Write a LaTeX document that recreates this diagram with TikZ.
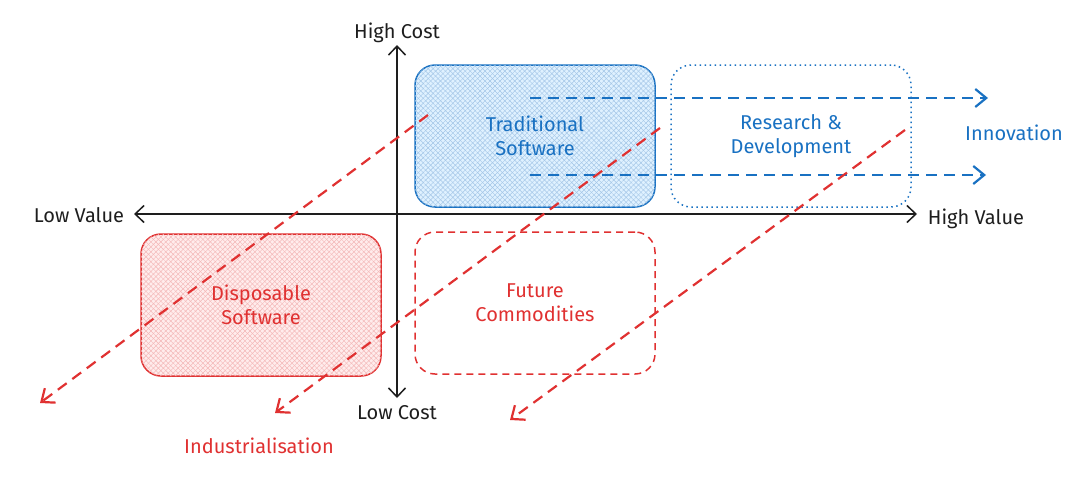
\documentclass[tikz,border=0pt]{standalone}
\usepackage{fontspec}
\setmainfont{Fira Sans}
\usetikzlibrary{arrows.meta,patterns.meta}
\definecolor{exblue}{HTML}{1971C2}
\definecolor{exred}{HTML}{E03131}
\definecolor{exink}{HTML}{1E1E1E}
\definecolor{lblue}{HTML}{A5D8FF}
\definecolor{lred}{HTML}{FFC9C9}
\tikzset{
  lbl/.style={font=\fontsize{20}{24}\selectfont, align=center, inner sep=0pt},
  quad/.style={draw, rounded corners=20pt, line width=1.5pt, minimum width=240pt, minimum height=142pt, align=center, font=\fontsize{20}{24}\selectfont},
  axis/.style={exink, line width=1.5pt, {Straight Barb[length=9pt,width=17pt,line width=1.5pt]}-{Straight Barb[length=9pt,width=17pt,line width=1.5pt]}},
  flow/.style={line width=2.2pt, dash pattern=on 11pt off 7pt, -{Straight Barb[length=11pt,width=18pt,line width=2.2pt]}},
}
\begin{document}
\begin{tikzpicture}[x=1pt,y=-1pt]
\useasboundingbox (0,0) rectangle (1080,477);
% quadrant boxes
\node[quad, draw=exblue, text=exblue, fill=lblue!35,
  postaction={pattern={Lines[angle=45,distance=3.5pt,line width=0.45pt]}, pattern color=exblue!40},
  postaction={pattern={Lines[angle=-45,distance=3.5pt,line width=0.45pt]}, pattern color=exblue!40}]
  (trad) at (535,136) {Traditional\\Software};
\node[quad, draw=exblue, text=exblue, dash pattern=on 1.5pt off 3.5pt] (rnd) at (791,136) {Research \&\\Development};
\node[quad, draw=exred, text=exred, fill=lred!35,
  postaction={pattern={Lines[angle=45,distance=3.5pt,line width=0.45pt]}, pattern color=exred!35},
  postaction={pattern={Lines[angle=-45,distance=3.5pt,line width=0.45pt]}, pattern color=exred!35}]
  (disp) at (261,305) {Disposable\\Software};
\node[quad, draw=exred, text=exred, dash pattern=on 7pt off 5pt] (fut) at (535,303) {Future\\Commodities};
% axes
\coordinate (ytop) at (397,45);
\coordinate (ybot) at (397,398);
\coordinate (xl) at (134,214);
\coordinate (xr) at (917,214);
\draw[axis] (ybot) -- (ytop);
\draw[axis] (xl) -- (xr);
\node[lbl, exink] (hc) at (397,33) {High Cost};
\node[lbl, exink] (lc) at (397,413) {Low Cost};
\node[lbl, exink] (lv) at (79,215) {Low Value};
\node[lbl, exink] (hv) at (976,219) {High Value};
% innovation arrows
\coordinate (b1s) at (530,98);
\coordinate (b1e) at (988,98);
\coordinate (b2s) at (530,175);
\coordinate (b2e) at (986,175);
\draw[flow, exblue] (b1s) -- (b1e);
\draw[flow, exblue] (b2s) -- (b2e);
\node[lbl, exblue] (inno) at (1014,133) {Innovation};
% industrialisation arrows
\coordinate (r1s) at (428,115);
\coordinate (r1e) at (40,403);
\coordinate (r2s) at (660,128);
\coordinate (r2e) at (275,413);
\coordinate (r3s) at (905,130);
\coordinate (r3e) at (510,420);
\draw[flow, exred] (r1s) -- (r1e);
\draw[flow, exred] (r2s) -- (r2e);
\draw[flow, exred] (r3s) -- (r3e);
\node[lbl, exred] (ind) at (259,446) {Industrialisation};
\end{tikzpicture}
\end{document}
